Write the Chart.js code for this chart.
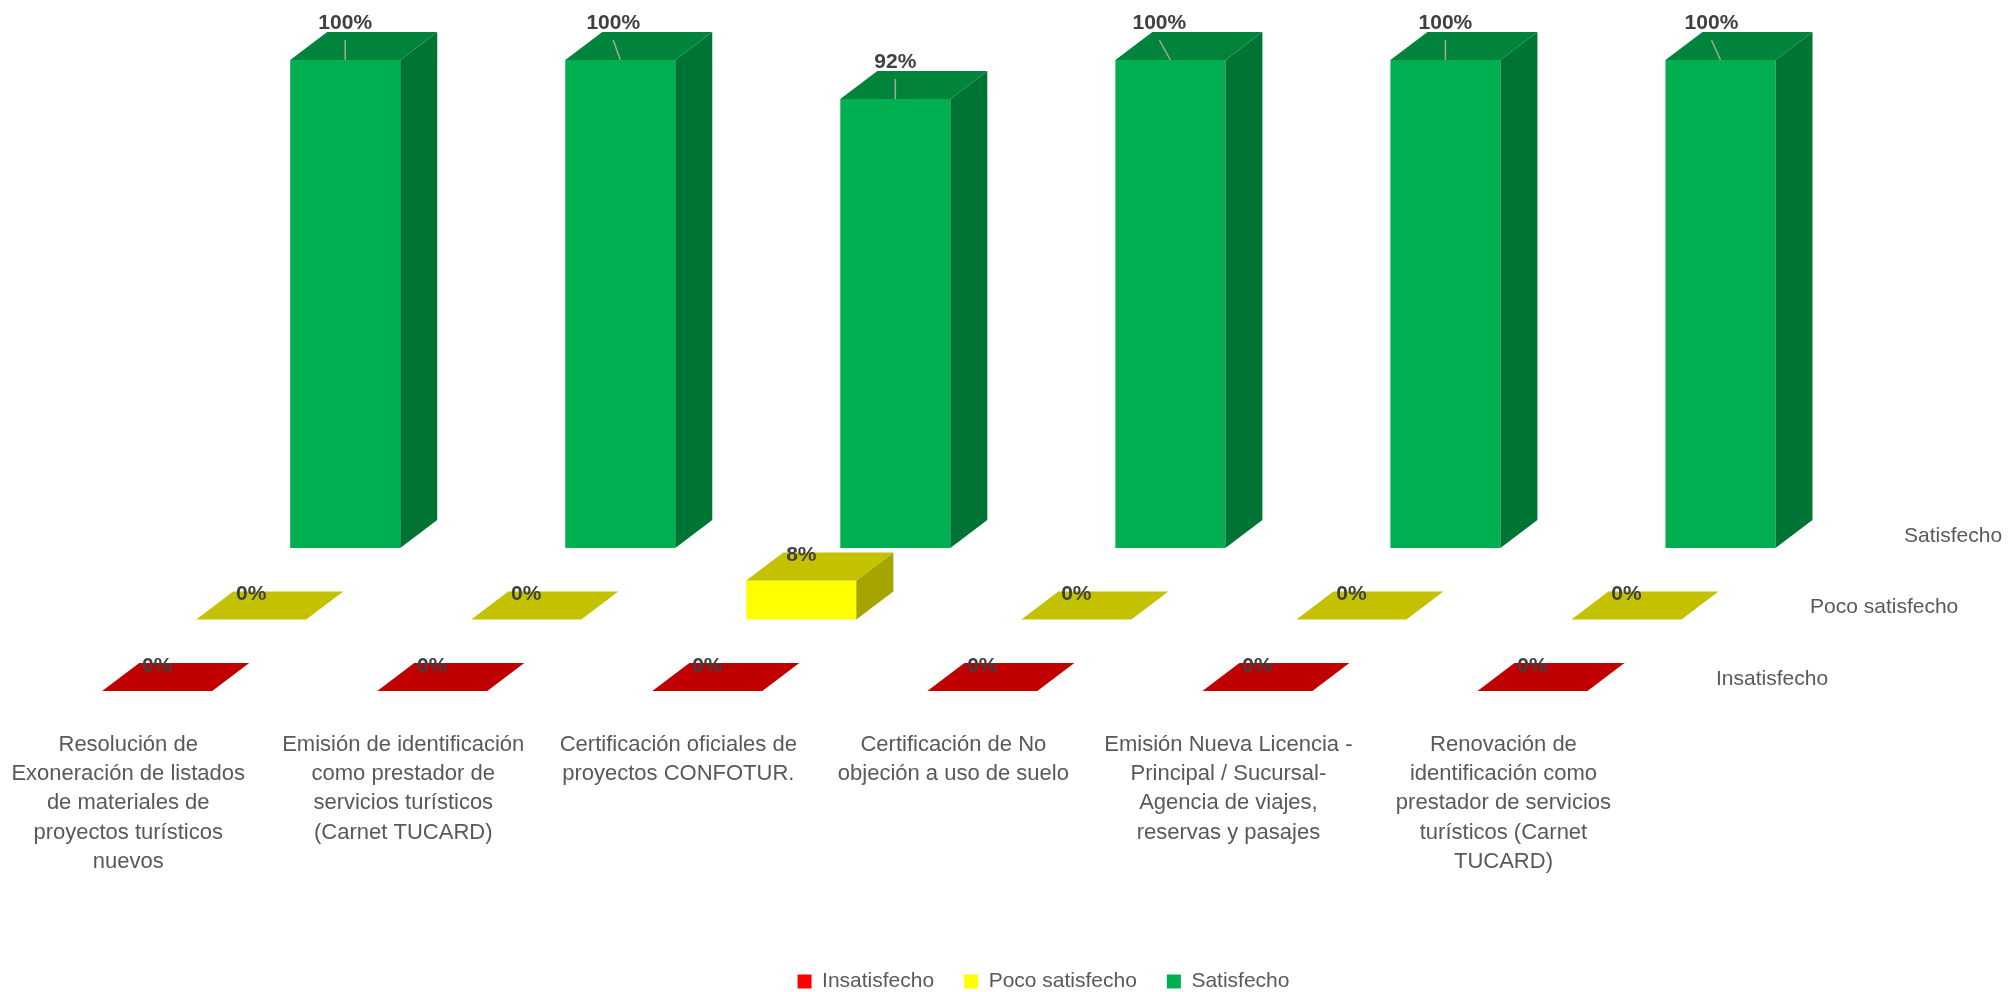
<!DOCTYPE html>
<html>
<head>
<meta charset="utf-8">
<script src="https://cdn.jsdelivr.net/npm/chart.js@4.4.1/dist/chart.umd.min.js"></script>
<style>
  html, body { margin: 0; padding: 0; background: #ffffff; }
  #wrap { width: 2008px; height: 992px; }
</style>
</head>
<body>
<div id="wrap"><canvas id="satisfaccionChart" width="2008" height="992"></canvas></div>
<script>
// servicios evaluados (una linea por renglon)
const categories = [
  ["Resolución de", "Exoneración de listados", "de materiales de", "proyectos turísticos", "nuevos"],
  ["Emisión de identificación", "como prestador de", "servicios turísticos", "(Carnet TUCARD)"],
  ["Certificación oficiales de", "proyectos CONFOTUR."],
  ["Certificación de No", "objeción a uso de suelo"],
  ["Emisión Nueva Licencia -", "Principal / Sucursal-", "Agencia de viajes,", "reservas y pasajes"],
  ["Renovación de", "identificación como", "prestador de servicios", "turísticos (Carnet", "TUCARD)"]
];

const seriesNames = ["Insatisfecho", "Poco satisfecho", "Satisfecho"];

// porcentajes por servicio
const insatisfecho = [0, 0, 0, 0, 0, 0];
const pocoSatisfecho = [0, 0, 8, 0, 0, 0];
const satisfecho = [100, 100, 92, 100, 100, 100];

const FONT = "'Liberation Sans', Arial, sans-serif";
const TEXT_GRAY = "#595959";
const LABEL_GRAY = "#404040";

// desplazamiento entre filas de series (efecto 3D) y profundidad de cada caja
const ROW_DX = 94;
const ROW_DY = -71.5;
const DEPTH_DX = 37;
const DEPTH_DY = -28;

// la leyenda va algo a la derecha del centro del area
const LEGEND_SHIFT = 200;

// =========================
// PLUGIN 3D
// =========================
const columnas3d = {
  id: "columnas3d",

  afterLayout(chart) {
    if (chart.legend) {
      chart.legend.left += LEGEND_SHIFT;
      chart.legend.right += LEGEND_SHIFT;
    }
  },

  beforeDatasetDraw(chart, args) {
    const row = args.index;
    chart.ctx.save();
    chart.ctx.translate(row * ROW_DX, row * ROW_DY);
  },

  afterDatasetDraw(chart, args) {
    const ctx = chart.ctx;
    const ds = chart.data.datasets[args.index];

    args.meta.data.forEach((bar) => {
      const { x, y, base, width } = bar.getProps(["x", "y", "base", "width"], true);
      const l = x - width / 2;
      const r = x + width / 2;

      // cara lateral
      ctx.fillStyle = ds.sideColor;
      ctx.beginPath();
      ctx.moveTo(r, y);
      ctx.lineTo(r + DEPTH_DX, y + DEPTH_DY);
      ctx.lineTo(r + DEPTH_DX, base + DEPTH_DY);
      ctx.lineTo(r, base);
      ctx.closePath();
      ctx.fill();

      // cara superior
      ctx.fillStyle = ds.topColor;
      ctx.beginPath();
      ctx.moveTo(l, y);
      ctx.lineTo(r, y);
      ctx.lineTo(r + DEPTH_DX, y + DEPTH_DY);
      ctx.lineTo(l + DEPTH_DX, y + DEPTH_DY);
      ctx.closePath();
      ctx.fill();
    });

    ctx.restore();
  },

  afterDatasetsDraw(chart) {
    const ctx = chart.ctx;
    ctx.save();
    ctx.font = "bold 21px " + FONT;
    ctx.textAlign = "center";
    ctx.textBaseline = "middle";

    chart.data.datasets.forEach((ds, row) => {
      const meta = chart.getDatasetMeta(row);
      const ox = row * ROW_DX;
      const oy = row * ROW_DY;

      meta.data.forEach((bar, i) => {
        const { x, y } = bar.getProps(["x", "y"], true);
        const shift = ds.labelShift ? ds.labelShift[i] : 0;
        const lx = x + ox + shift;
        const ly = y + oy - ds.labelLift;

        if (ds.leader) {
          ctx.strokeStyle = "#a6a6a6";
          ctx.lineWidth = 1.5;
          ctx.beginPath();
          ctx.moveTo(lx, y + oy - 20);
          ctx.lineTo(x + ox, y + oy);
          ctx.stroke();
        }

        ctx.fillStyle = LABEL_GRAY;
        ctx.fillText(ds.data[i] + "%", lx, ly);
      });
    });

    // nombres de las series a la derecha de cada fila
    const area = chart.chartArea;
    ctx.font = "21px " + FONT;
    ctx.fillStyle = TEXT_GRAY;
    ctx.textAlign = "left";
    seriesNames.forEach((name, row) => {
      ctx.fillText(name, area.right + 46 + row * ROW_DX, area.bottom - 12 + row * ROW_DY);
    });

    ctx.restore();
  }
};

// =========================
// GRAFICO
// =========================
const ctx = document.getElementById("satisfaccionChart");

new Chart(ctx, {
  type: "bar",

  data: {
    labels: categories,

    datasets: [
      {
        label: seriesNames[0],
        data: insatisfecho,
        backgroundColor: "#ff0000",
        topColor: "#c00000",
        sideColor: "#a00000",
        labelLift: 25
      },
      {
        label: seriesNames[1],
        data: pocoSatisfecho,
        backgroundColor: "#ffff00",
        topColor: "#c4c200",
        sideColor: "#a6a400",
        labelLift: 25
      },
      {
        label: seriesNames[2],
        data: satisfecho,
        backgroundColor: "#00b050",
        topColor: "#00843c",
        sideColor: "#007434",
        labelLift: 37,
        leader: true,
        labelShift: [0, -7, 0, -11, 0, -9]
      }
    ]
  },

  options: {
    responsive: false,
    animation: false,
    layout: {
      padding: { left: 17, right: 338, top: 203, bottom: 0 }
    },
    datasets: {
      bar: {
        grouped: false,
        categoryPercentage: 0.8,
        barPercentage: 0.5,
        borderWidth: 0,
        clip: false
      }
    },
    scales: {
      x: {
        offset: true,
        grid: { display: false, drawTicks: false },
        border: { display: false },
        ticks: {
          color: TEXT_GRAY,
          font: { family: FONT, size: 22, lineHeight: 1.333 },
          padding: 39,
          labelOffset: -29,
          maxRotation: 0,
          autoSkip: false
        },
        afterFit(scale) {
          scale.height = 250;
        }
      },
      y: {
        display: false,
        min: 0,
        max: 100
      }
    },
    plugins: {
      tooltip: { enabled: false },
      legend: {
        position: "bottom",
        maxHeight: 51,
        labels: {
          color: TEXT_GRAY,
          font: { family: FONT, size: 21 },
          boxWidth: 14,
          boxHeight: 14,
          padding: 30
        }
      }
    }
  },

  plugins: [columnas3d]
});
</script>
</body>
</html>
